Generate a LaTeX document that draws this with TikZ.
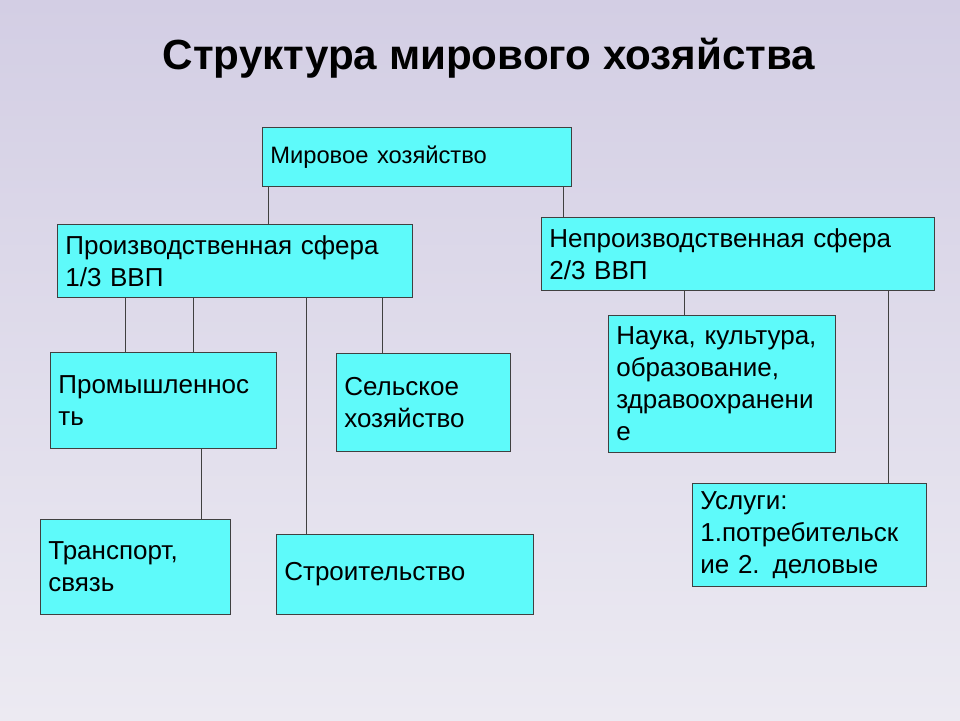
\documentclass[tikz,border=0pt]{standalone}
\usepackage{fontspec}
\setmainfont{Liberation Sans}
\usetikzlibrary{positioning}
\definecolor{bgtop}{HTML}{D3CEE4}
\definecolor{bgbot}{HTML}{ECEAF2}
\definecolor{boxfill}{HTML}{5EFAFA}
\tikzset{
  boxnode/.style={draw=black!75, fill=boxfill, anchor=north west, align=left,
    inner xsep=0.16cm, inner ysep=0pt, font=\fontsize{14.8}{18.2}\selectfont},
  link/.style={draw=black!75}
}
\newcommand{\blk}[6]{% name, x, y, w, h, text
  \node[boxnode, minimum width=#4*0.02cm, minimum height=#5*0.02cm,
        text width=#4*0.02cm-0.32cm] (#1) at (#2,#3) {#6};}
\begin{document}
\begin{tikzpicture}[x=0.02cm,y=-0.02cm]
  \shade[top color=bgtop, bottom color=bgbot] (0,0) rectangle (960,720);
  \useasboundingbox (0,0) rectangle (960,720);

  \node[font=\fontsize{24}{28}\selectfont\bfseries] (title) at (489,58) {Структура мирового хозяйства};

  \blk{world}{262}{127}{309}{59}{\fontsize{13.5}{16}\selectfont Мировое хозяйство}
  \blk{prod}{57}{224}{355}{73}{Производственная сфера\\1/3 ВВП}
  \blk{nonprod}{541}{217}{393}{73}{Непроизводственная сфера\\2/3 ВВП}
  \blk{industry}{50}{352}{226}{96}{Промышленнос\\ть}
  \blk{agri}{336}{353}{174}{98}{Сельское\\хозяйство}
  \blk{science}{608}{315}{227}{137}{Наука, культура,\\образование,\\здравоохранени\\е}
  \blk{transport}{40}{519}{190}{95}{Транспорт,\\связь}
  \blk{build}{276}{534}{257}{80}{Строительство}
  \blk{services}{692}{483}{234}{103}{Услуги:\\1.потребительск\\ие 2. деловые}

  % links
  \draw[link] ([xshift=0.12cm]world.south west) -- ([xshift=0.12cm]world.south west |- prod.north);
  \draw[link] ([xshift=6.02cm]world.south west) -- ([xshift=6.02cm]world.south west |- nonprod.north);
  \draw[link] ([xshift=1.36cm]prod.south west) -- ([xshift=1.36cm]prod.south west |- industry.north);
  \draw[link] ([xshift=2.72cm]prod.south west) -- ([xshift=2.72cm]prod.south west |- industry.north);
  \draw[link] ([xshift=4.98cm]prod.south west) -- ([xshift=4.98cm]prod.south west |- build.north);
  \draw[link] ([xshift=6.50cm]prod.south west) -- ([xshift=6.50cm]prod.south west |- agri.north);
  \draw[link] ([xshift=3.02cm]industry.south west) -- ([xshift=3.02cm]industry.south west |- transport.north);
  \draw[link] ([xshift=2.86cm]nonprod.south west) -- ([xshift=2.86cm]nonprod.south west |- science.north);
  \draw[link] ([xshift=6.94cm]nonprod.south west) -- ([xshift=6.94cm]nonprod.south west |- services.north);
\end{tikzpicture}
\end{document}
